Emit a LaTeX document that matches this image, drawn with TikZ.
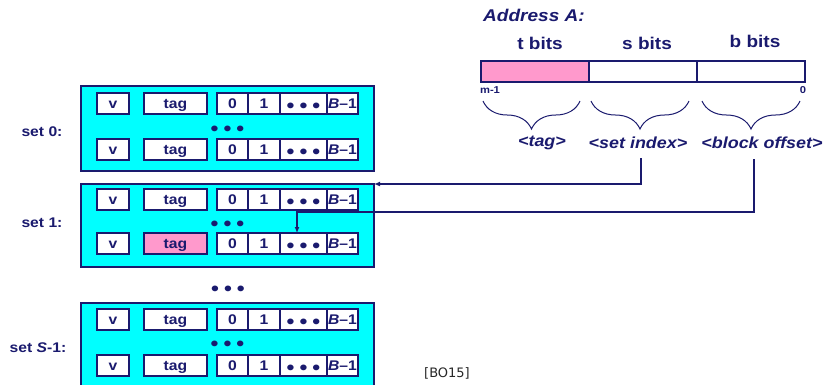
\documentclass[tikz,border=0pt]{standalone}
\usepackage{fontspec}
\setmainfont{Liberation Sans}
\newfontfamily\wfont[FakeStretch=1.12]{Liberation Sans}
\newfontfamily\reffont{DejaVu Sans}
\usetikzlibrary{decorations.pathreplacing,arrows.meta}
\definecolor{navy}{RGB}{26,26,110}
\definecolor{cy}{RGB}{0,255,255}
\definecolor{pk}{RGB}{255,153,204}
\newcommand{\ddd}{{\fontsize{20}{20}\selectfont•\hspace{5pt}•\hspace{5pt}•}}
\tikzset{
  setbox/.style={draw=navy, fill=cy, line width=1.4pt, inner sep=0pt, outer sep=0pt},
  cell/.style={draw=navy, fill=white, line width=1.1pt, inner sep=0pt, outer sep=0pt,
    minimum height=21pt, text height=10pt, text depth=0pt, text=navy,
    font=\wfont\bfseries\fontsize{14}{14}\selectfont},
  lbl/.style={text=navy, inner sep=0pt, font=\wfont\bfseries\fontsize{14}{14}\selectfont},
  dots/.style={text=navy, inner sep=0pt, text height=17pt, text depth=0pt, font=\wfont\bfseries},
  bits/.style={text=navy, inner sep=0pt, font=\wfont\bfseries\fontsize{17}{17}\selectfont},
  field/.style={text=navy, inner sep=0pt, font=\wfont\bfseries\itshape\fontsize{16}{16}\selectfont},
  small/.style={text=navy, inner sep=0pt, font=\wfont\bfseries\fontsize{10}{10}\selectfont},
  bar/.style={draw=navy, line width=1.1pt, inner sep=0pt, outer sep=0pt, minimum height=21pt, minimum width=108pt},
  brc/.style={draw=navy, line width=1pt, decorate, decoration={brace, mirror, amplitude=28pt}},
  arr/.style={draw=navy, line width=1.5pt, -{Latex[length=6pt,width=5pt]}},
}
\newcommand{\cacherow}[3]{%
  \node[cell, minimum width=32pt] (#1v) at (113,#2+10.5) {v};
  \node[cell, minimum width=63pt, fill=#3] (#1t) at (175.5,#2+10.5) {tag};
  \node[cell, minimum width=31pt] (#1da) at (232.5,#2+10.5) {0};
  \node[cell, minimum width=32pt] (#1db) at (264,#2+10.5) {1};
  \node[cell, minimum width=47pt, text height=17pt] (#1dd) at (303.5,#2+10.5) {\ddd};
  \node[cell, minimum width=31pt] (#1de) at (342.5,#2+10.5) {\textit{B}–1};
}
\begin{document}
\begin{tikzpicture}[x=1pt,y=-1pt]
\useasboundingbox (0,0) rectangle (831,384);
\fill[white] (0,0) rectangle (831,384);
% sets
\node[setbox, minimum width=293pt, minimum height=85pt] (set0) at (227.5,128.5) {};
\node[setbox, minimum width=293pt, minimum height=83pt] (set1) at (227.5,225.5) {};
\node[setbox, minimum width=293pt, minimum height=90pt] (setS) at (227.5,348) {};
\cacherow{sa}{93}{white}
\cacherow{sb}{139}{white}
\node[dots] (d0) at (227.5,127) {\ddd};
\cacherow{sc}{189}{white}
\cacherow{sd}{233}{pk}
\node[dots] (d1) at (227.5,222) {\ddd};
\node[dots] (dm) at (228,287) {\ddd};
\cacherow{se}{309}{white}
\cacherow{sf}{355}{white}
\node[dots] (d2) at (227.5,342) {\ddd};
\node[lbl] (l0) at (42,132) {set 0:};
\node[lbl] (l1) at (42,223) {set 1:};
\node[lbl] (l2) at (38,348) {set \textit{S}-1:};
% address
\node[field, anchor=west, font=\wfont\bfseries\itshape\fontsize{17}{17}\selectfont] (addr) at (483,15) {Address A:};
\node[bits] (tb) at (540,43) {t bits};
\node[bits] (sb) at (647,43) {s bits};
\node[bits] (bb) at (755,41) {b bits};
\node[bar, fill=pk] (bt) at (535,71.5) {};
\node[bar, fill=white] (bs) at (643,71.5) {};
\node[bar, fill=white] (bo) at (751,71.5) {};
\node[small] (m1) at (490,90) {m-1};
\node[small] (z0) at (803,90) {0};
\draw[brc] (483,101) -- (580,101);
\draw[brc] (591,101) -- (689,101);
\draw[brc] (702,101) -- (800,101);
\node[field] (ftag) at (542,143) {<tag>};
\node[field] (fset) at (638,143) {<set index>};
\node[field] (foff) at (762,143) {<block offset>};
% arrows
\coordinate (a1) at (641,158);
\coordinate (a2) at (754,159);
\draw[arr] (a1) |- (set1.north east);
\draw[arr] (a2) |- ([xshift=-6.5pt]sddd.north |- 0,212) -- ([xshift=-6.5pt]sddd.north);
\node[inner sep=0pt, text=black!85, font=\reffont\fontsize{13}{13}\selectfont] (ref) at (447,373) {[BO15]};
\end{tikzpicture}
\end{document}
